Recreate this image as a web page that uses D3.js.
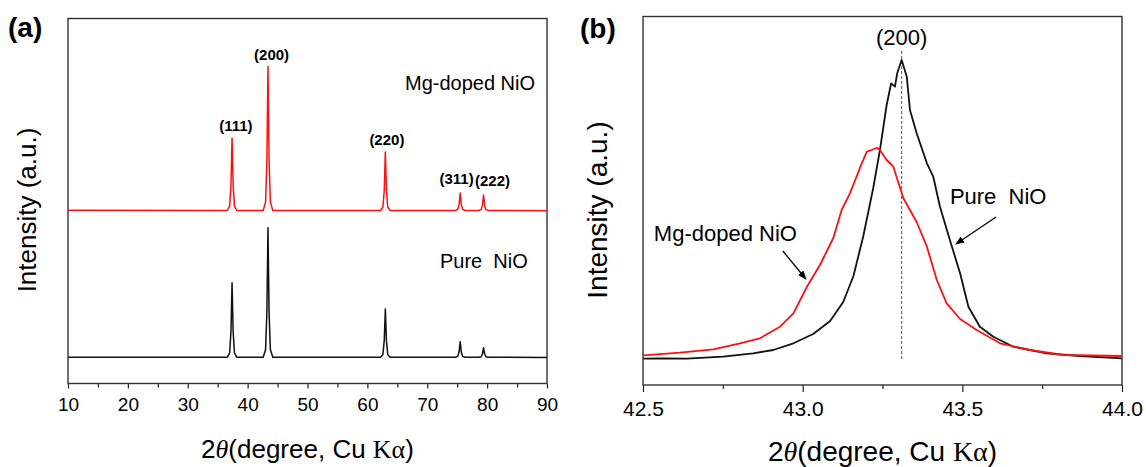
<!DOCTYPE html>
<html>
<head>
<meta charset="utf-8">
<script src="https://cdn.jsdelivr.net/npm/d3@7"></script>
<style>
  body { margin: 0; background: #fff; }
  text { font-family: "Liberation Sans", Arial, sans-serif; fill: #000; }
  .panel-label { font-weight: bold; font-size: 28px; }
  .peak-label { font-weight: bold; font-size: 15px; }
</style>
</head>
<body>
<div id="chart"></div>
<script>
// ---- Panel (a): full XRD patterns, [2theta, intensity] ----
const pureNiO = [
  [10, 262], [36.6, 262], [37.0, 307], [37.22, 523], [37.4, 1008], [37.58, 523], [37.8, 307], [38.2, 262],
  [42.6, 262], [43.0, 340], [43.22, 716], [43.4, 1558], [43.58, 716], [43.8, 340], [44.2, 262],
  [62.2, 262], [62.6, 291], [62.82, 431], [63.0, 745], [63.18, 431], [63.4, 291], [63.8, 262],
  [74.7, 262], [75.1, 271], [75.32, 317], [75.5, 418], [75.68, 317], [75.9, 271], [76.3, 262],
  [78.6, 262], [79.0, 268], [79.22, 296], [79.4, 358], [79.58, 296], [79.8, 268], [80.2, 262],
  [90, 260]
];
const mgNiO = [
  [10, 262], [36.6, 260], [37.0, 304], [37.22, 514], [37.4, 985], [37.58, 514], [37.8, 304], [38.2, 260],
  [42.6, 260], [43.0, 346], [43.22, 764], [43.4, 1700], [43.58, 764], [43.8, 346], [44.2, 260],
  [62.2, 260], [62.6, 295], [62.82, 465], [63.0, 845], [63.18, 465], [63.4, 295], [63.8, 260],
  [74.7, 260], [75.1, 271], [75.32, 321], [75.5, 435], [75.68, 321], [75.9, 271], [76.3, 260],
  [78.6, 260], [79.0, 269], [79.22, 314], [79.4, 415], [79.58, 314], [79.8, 269], [80.2, 260],
  [90, 258]
];
const mgOffset = 1470;
// peak labels: text, label 2theta, peak top (Mg-doped raw intensity)
const peakLabels = ["(111)", "(200)", "(220)", "(311)", "(222)"];
const peakLabelX = [38.05, 44.0, 63.26, 74.9, 80.9];
const peakTops = [985, 1700, 845, 435, 415];
const ticksA = [10, 20, 30, 40, 50, 60, 70, 80, 90];

// ---- Panel (b): zoom on (200) peak ----
const pureZoom = [
  [42.501, 263], [42.564, 267], [42.637, 263], [42.751, 283], [42.845, 317], [42.908, 350],
  [42.971, 417], [43.033, 510], [43.086, 640], [43.127, 830], [43.159, 1090], [43.190, 1490],
  [43.221, 1970], [43.242, 2350], [43.263, 2800], [43.277, 3017], [43.289, 2983], [43.296, 3117],
  [43.310, 3250], [43.326, 3083], [43.336, 2750], [43.357, 2517], [43.389, 2217], [43.409, 2083],
  [43.430, 1783], [43.461, 1450], [43.493, 1117], [43.519, 783], [43.555, 583], [43.597, 483],
  [43.660, 383], [43.764, 317], [43.869, 290], [43.999, 267]
];
const mgZoom = [
  [42.501, 297], [42.616, 323], [42.720, 357], [42.804, 417], [42.866, 467], [42.929, 583],
  [42.971, 717], [43.013, 980], [43.054, 1200], [43.096, 1470], [43.122, 1750], [43.148, 1917],
  [43.167, 2070], [43.185, 2217], [43.201, 2333], [43.216, 2350], [43.232, 2373], [43.242, 2350],
  [43.263, 2250], [43.284, 2183], [43.315, 1870], [43.357, 1630], [43.389, 1383], [43.420, 1050],
  [43.451, 817], [43.493, 660], [43.545, 550], [43.618, 417], [43.712, 350], [43.816, 300],
  [43.999, 290]
];
const peak200 = 43.31;
const ticksB = [42.5, 43.0, 43.5, 44.0];

const svg = d3.select("#chart").append("svg")
  .attr("width", 1146).attr("height", 467);

svg.append("defs").append("marker")
  .attr("id", "arrow")
  .attr("viewBox", "0 0 10 10")
  .attr("refX", 9).attr("refY", 5)
  .attr("markerWidth", 9).attr("markerHeight", 9)
  .attr("markerUnits", "userSpaceOnUse")
  .attr("orient", "auto")
  .append("path").attr("d", "M0,1 L10,5 L0,9 Z").attr("fill", "#000");

// Draws the frame, bottom axis with minor ticks and axis titles
function drawFrame(x, y, opts) {
  const [x0, x1] = x.range();
  const [y0, y1] = y.range();
  const g = svg.append("g");

  const axis = g.append("g")
    .attr("transform", `translate(0, ${y0})`)
    .call(d3.axisBottom(x).tickValues(opts.minor).tickSize(4).tickFormat(""));
  axis.select(".domain").remove();
  axis.selectAll("line").attr("stroke", "#222").attr("stroke-width", 1.2);

  const major = g.append("g")
    .attr("transform", `translate(0, ${y0})`)
    .call(d3.axisBottom(x).tickValues(opts.ticks).tickSize(opts.majorSize).tickPadding(opts.pad).tickFormat(opts.fmt));
  major.select(".domain").remove();
  major.selectAll("line").attr("stroke", "#222").attr("stroke-width", 1.2);
  major.selectAll("text")
    .style("font-family", "Liberation Sans, Arial, sans-serif")
    .style("font-size", opts.tickFont + "px")
    .attr("fill", "#000");

  g.append("rect")
    .attr("x", x0).attr("y", y1)
    .attr("width", x1 - x0).attr("height", y0 - y1)
    .attr("fill", "none").attr("stroke", "#333").attr("stroke-width", 1.4);

  // y title
  g.append("text")
    .attr("transform", `translate(${opts.yTitleX}, ${opts.yTitleY}) rotate(-90)`)
    .attr("text-anchor", "middle")
    .style("font-size", opts.yFont + "px")
    .text("Intensity (a.u.)");

  // x title: 2θ(degree, Cu Kα)
  const t = g.append("text")
    .attr("x", (x0 + x1) / 2).attr("y", opts.xTitleY)
    .attr("text-anchor", "middle")
    .style("font-size", opts.xFont + "px");
  t.append("tspan").text("2");
  t.append("tspan").style("font-family", "Liberation Serif, serif").style("font-style", "italic").text("θ");
  t.append("tspan").text("(degree, Cu ");
  t.append("tspan").style("font-family", "Liberation Serif, serif").text("Kα");
  t.append("tspan").text(")");
  return g;
}

// ---------- Panel (a) ----------
const xA = d3.scaleLinear().domain([10, 90]).range([68, 547]);
const yA = d3.scaleLinear().domain([0, 3650]).range([383.5, 18.5]);

drawFrame(xA, yA, {
  ticks: ticksA, minor: d3.range(15, 90, 10), majorSize: 5, pad: 9,
  fmt: d3.format("d"), tickFont: 19, yFont: 26, xFont: 26,
  yTitleX: 36, yTitleY: 210, xTitleY: 458
});

svg.append("path")
  .datum(pureNiO)
  .attr("fill", "none").attr("stroke", "#111").attr("stroke-width", 1.5)
  .attr("stroke-linejoin", "round")
  .attr("d", d3.line().x(d => xA(d[0])).y(d => yA(d[1])));
svg.append("path")
  .datum(mgNiO)
  .attr("fill", "none").attr("stroke", "#ff1010").attr("stroke-width", 1.5)
  .attr("stroke-linejoin", "round")
  .attr("d", d3.line().x(d => xA(d[0])).y(d => yA(d[1] + mgOffset)));

svg.selectAll(".peak-label")
  .data(peakLabels)
  .enter().append("text")
  .attr("class", "peak-label")
  .attr("text-anchor", "middle")
  .attr("x", (d, i) => xA(peakLabelX[i]))
  .attr("y", (d, i) => yA(peakTops[i] + mgOffset) - (i > 2 ? 9 : 7))
  .text(d => d);

svg.append("text").attr("x", 405).attr("y", 90)
  .style("font-size", "20px").text("Mg-doped NiO");
svg.append("text").attr("x", 440).attr("y", 268)
  .style("font-size", "20px").text("Pure\u00a0 NiO");

svg.append("text").attr("class", "panel-label").attr("x", 8).attr("y", 37).text("(a)");

// ---------- Panel (b) ----------
const xB = d3.scaleLinear().domain([42.5, 44.0]).range([643, 1122]);
const yB = d3.scaleLinear().domain([0, 3685]).range([385, 16.5]);

drawFrame(xB, yB, {
  ticks: ticksB, minor: [42.75, 43.25, 43.75], majorSize: 7, pad: 9,
  fmt: d3.format(".1f"), tickFont: 21, yFont: 28, xFont: 28,
  yTitleX: 607, yTitleY: 210, xTitleY: 461
});

// dashed (200) guide
svg.append("line")
  .attr("x1", xB(peak200)).attr("x2", xB(peak200))
  .attr("y1", 51).attr("y2", yB(260))
  .attr("stroke", "#555").attr("stroke-width", 1).attr("stroke-dasharray", "3,2");

svg.append("text")
  .attr("x", xB(peak200)).attr("y", 45)
  .attr("text-anchor", "middle")
  .style("font-size", "22px").text("(200)");

svg.append("path")
  .datum(pureZoom)
  .attr("fill", "none").attr("stroke", "#111").attr("stroke-width", 1.8)
  .attr("stroke-linejoin", "round")
  .attr("d", d3.line().x(d => xB(d[0])).y(d => yB(d[1])));
svg.append("path")
  .datum(mgZoom)
  .attr("fill", "none").attr("stroke", "#ff1010").attr("stroke-width", 1.8)
  .attr("stroke-linejoin", "round")
  .attr("d", d3.line().x(d => xB(d[0])).y(d => yB(d[1])));

// annotations
svg.append("text").attr("x", xB(43.461)).attr("y", yB(1810))
  .style("font-size", "22px").text("Pure\u00a0 NiO");
svg.append("line")
  .attr("x1", xB(43.606)).attr("y1", yB(1680))
  .attr("x2", xB(43.480)).attr("y2", yB(1410))
  .attr("stroke", "#000").attr("stroke-width", 1.3).attr("marker-end", "url(#arrow)");

svg.append("text").attr("x", xB(42.534)).attr("y", yB(1440))
  .style("font-size", "22px").text("Mg-doped NiO");
svg.append("line")
  .attr("x1", xB(42.938)).attr("y1", yB(1340))
  .attr("x2", xB(43.010)).attr("y2", yB(1060))
  .attr("stroke", "#000").attr("stroke-width", 1.3).attr("marker-end", "url(#arrow)");

svg.append("text").attr("class", "panel-label").attr("x", 580).attr("y", 38).text("(b)");
</script>
</body>
</html>
